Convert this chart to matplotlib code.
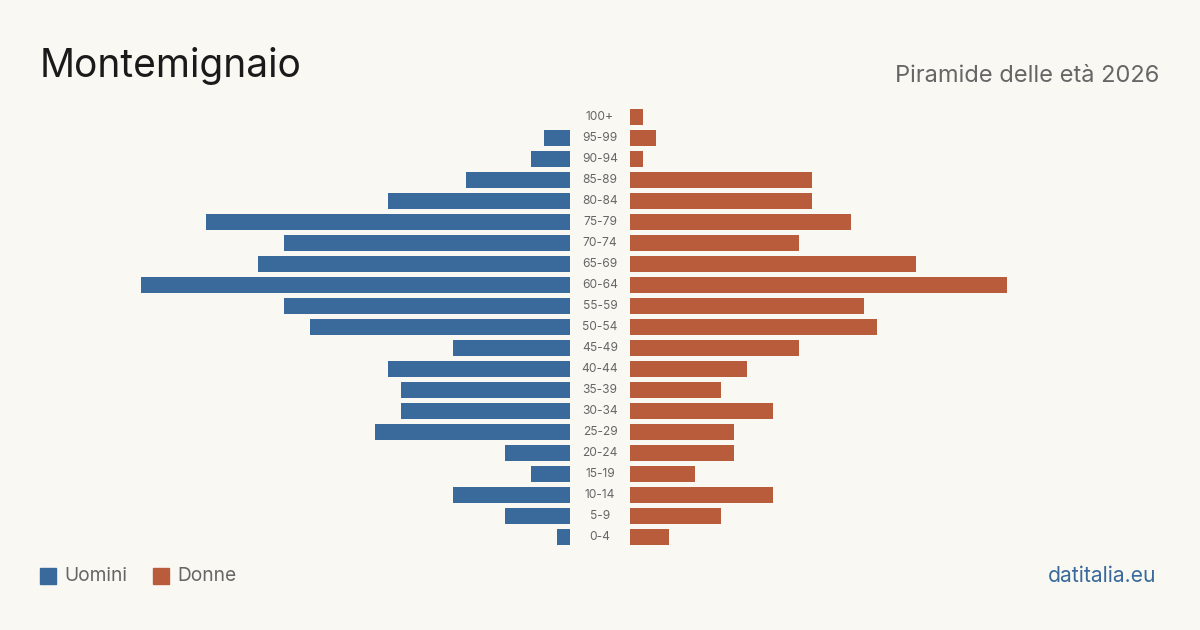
import matplotlib.pyplot as plt
from matplotlib.patches import Rectangle

age_groups = ["100+", "95-99", "90-94", "85-89", "80-84", "75-79", "70-74",
              "65-69", "60-64", "55-59", "50-54", "45-49", "40-44", "35-39",
              "30-34", "25-29", "20-24", "15-19", "10-14", "5-9", "0-4"]
men   = [0, 2, 3, 8, 14, 28, 22, 24, 33, 22, 20, 9, 14, 13, 13, 15, 5, 3, 9, 5, 1]
women = [1, 2, 1, 14, 14, 17, 13, 22, 29, 18, 19, 13, 9, 7, 11, 8, 8, 5, 11, 7, 3]

BG    = "#f9f8f3"
BLUE  = "#3a6a9b"
RED   = "#b95c3c"
FONT  = "Inter"

W, H = 1200, 630
fig = plt.figure(figsize=(W / 100, H / 100), dpi=100, facecolor=BG)
plt.rcParams["font.family"] = [FONT, "DejaVu Sans"]

PX_PER_UNIT = 13.0
top, bottom = 106.5, 547.5
ax_h = (bottom - top) / H
ax_y = 1 - bottom / H

# left (men) axes: right edge at x=570
axl = fig.add_axes([40 / W, ax_y, 530 / W, ax_h])
# right (women) axes: left edge at x=630
axr = fig.add_axes([630 / W, ax_y, 530 / W, ax_h])

ys = list(range(len(age_groups)))
for ax, vals, col in [(axl, men, BLUE), (axr, women, RED)]:
    ax.barh(ys, vals, height=0.8, color=col)
    ax.set_ylim(len(age_groups) - 0.5, -0.5)
    ax.set_xlim(0, 530 / PX_PER_UNIT)
    ax.axis("off")
    ax.set_facecolor("none")
axl.invert_xaxis()

for y, lab in zip(ys, age_groups):
    fig.text(600 / W, 1 - (117 + 21 * y) / H, lab, ha="center", va="center",
             fontsize=8.6, color="#666666")

fig.text(40 / W, 1 - 66 / H, "Montemignaio", ha="left", va="center",
         fontsize=28, color="#1a1a1a")
fig.text(1159 / W, 1 - 76 / H, "Piramide delle età 2026", ha="right", va="center",
         fontsize=17, color="#666666")

# legend
for x0, col, lab in [(40, BLUE, "Uomini"), (153, RED, "Donne")]:
    fig.patches.append(Rectangle((x0 / W, 1 - 584 / H), 16 / W, 16 / H,
                                 transform=fig.transFigure, color=col))
    fig.text((x0 + 24) / W, 1 - 576 / H, lab, ha="left", va="center",
             fontsize=13.8, color="#666666")

fig.text(1156 / W, 1 - 576 / H, "datitalia.eu", ha="right", va="center",
         fontsize=15.2, color="#3a6a9b")

fig.savefig("out.png", dpi=100, facecolor=BG)
